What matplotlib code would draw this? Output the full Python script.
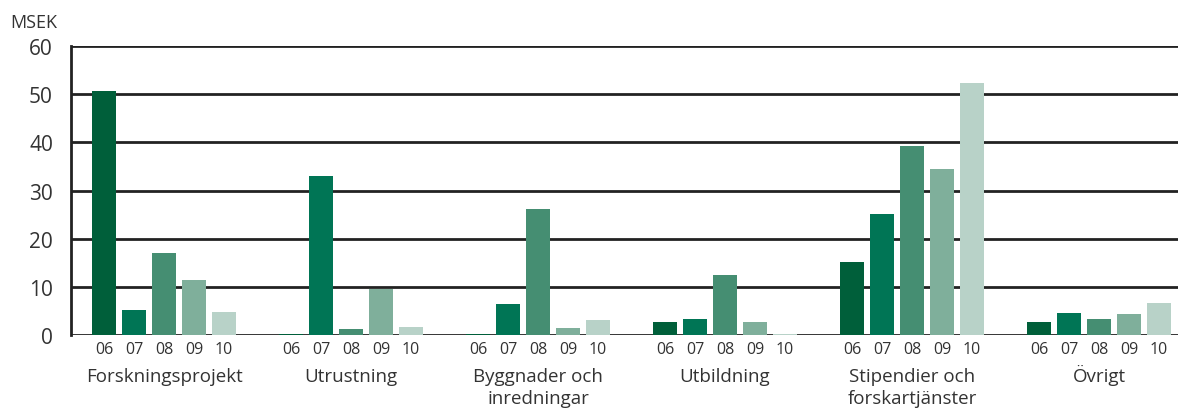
import matplotlib
matplotlib.use("Agg")
import matplotlib.pyplot as plt
import matplotlib.transforms as mtransforms
import numpy as np

plt.rcParams['font.family'] = ['Open Sans', 'DejaVu Sans']

categories = ["Forskningsprojekt", "Utrustning", "Byggnader och\ninredningar",
              "Utbildning", "Stipendier och\nforskartjänster", "Övrigt"]
years = ["06", "07", "08", "09", "10"]
values = {
    "06": [50.6, 0.3, 0.3, 2.8, 15.1, 2.7],
    "07": [5.2, 33.0, 6.4, 3.3, 25.1, 4.5],
    "08": [17.0, 1.2, 26.2, 12.5, 39.2, 3.3],
    "09": [11.4, 9.6, 1.4, 2.8, 34.4, 4.3],
    "10": [4.8, 1.6, 3.1, 0.2, 52.3, 6.6],
}
colors = ["#005F3A", "#007555", "#458E72", "#7FAF9B", "#B8D2C8"]
yticks = [0, 10, 20, 30, 40, 50, 60]

W, H = 1178, 410
fig = plt.figure(figsize=(W / 100, H / 100), dpi=100)
ax = fig.add_axes([71 / W, (H - 336) / H, (1178 - 71) / W, (336 - 47) / H])

group_step = 187 / 30
xs_all, labels_all = [], []
for j, yr in enumerate(years):
    xs = np.arange(len(categories)) * group_step + j
    ax.bar(xs, values[yr], width=0.8, color=colors[j], zorder=3)
    xs_all.extend(xs)
    labels_all.extend([yr] * len(categories))

for y in yticks:
    ax.axhline(y, color="#222222", lw=2, zorder=2)

ax.set_xlim(-1.1, 35.8)
ax.set_ylim(0, 60)
ax.set_yticks(yticks)
ax.tick_params(axis='y', length=0, pad=13, labelsize=15, colors="#333333")
ax.set_xticks(xs_all)
ax.set_xticklabels(labels_all)
ax.tick_params(axis='x', length=0, pad=4, labelsize=11.5, colors="#333333")
for s in ["top", "right", "bottom"]:
    ax.spines[s].set_visible(False)
ax.spines["left"].set_linewidth(2)
ax.spines["left"].set_color("#222222")

trans = mtransforms.blended_transform_factory(ax.transData, fig.transFigure)
for i, cat in enumerate(categories):
    cx = i * group_step + 2
    for k, line in enumerate(cat.split("\n")):
        ax.text(cx, 1 - (382 + 22 * k) / H, line, transform=trans, ha="center",
                va="baseline", fontsize=13.5, color="#333333")

fig.text(10 / W, 1 - 22.5 / H, "MSEK", ha="left", va="center", fontsize=13, color="#333333")
fig.savefig("out.png", dpi=100)
